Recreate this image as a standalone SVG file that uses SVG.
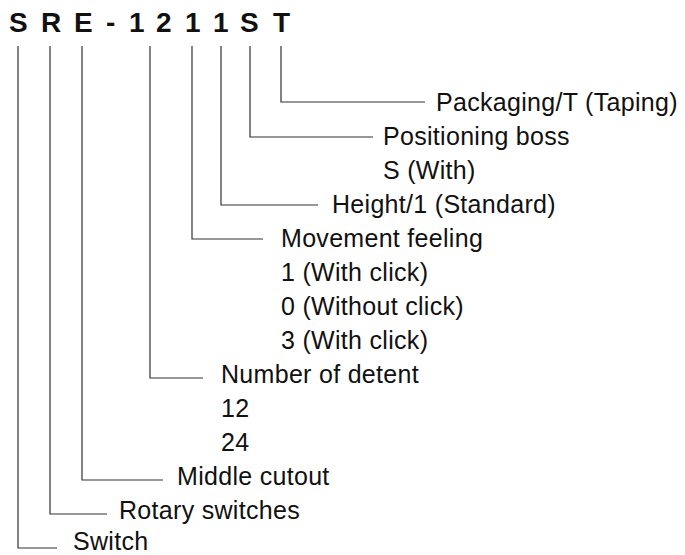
<svg xmlns="http://www.w3.org/2000/svg" width="685" height="555" viewBox="0 0 685 555">
<style>
.code{font-family:"Liberation Sans",Arial,sans-serif;font-size:28px;font-weight:bold;fill:#111}
.lbl{font-family:"Liberation Sans",Arial,sans-serif;font-size:25px;fill:#111;letter-spacing:0.3px}
.ln{fill:none;stroke:#333;stroke-width:1.2}
</style>
<rect width="685" height="555" fill="#fff"/>
<g id="code"><text class="code" x="9 41 74 106 129 156 185 213 240 273" y="32">SRE-1211ST</text></g>
<g id="connectors">
<path class="ln" d="M281 46V102H425"/>
<path class="ln" d="M250 46V137H373"/>
<path class="ln" d="M221 46V205H318"/>
<path class="ln" d="M192 46V239H263"/>
<path class="ln" d="M150 46V378H203"/>
<path class="ln" d="M82 46V480H163"/>
<path class="ln" d="M50 46V514H107"/>
<path class="ln" d="M18 46V548H57"/>
</g>
<g id="packaging"><text class="lbl" x="436" y="111">Packaging/T (Taping)</text></g>
<g id="positioning"><text class="lbl" x="383" y="145">Positioning boss</text><text class="lbl" x="383" y="179">S (With)</text></g>
<g id="height"><text class="lbl" x="332" y="213">Height/1 (Standard)</text></g>
<g id="movement"><text class="lbl" x="281" y="247">Movement feeling</text><text class="lbl" x="281" y="281">1 (With click)</text><text class="lbl" x="281" y="315">0 (Without click)</text><text class="lbl" x="281" y="349">3 (With click)</text></g>
<g id="detent"><text class="lbl" x="221" y="383">Number of detent</text><text class="lbl" x="221" y="417">12</text><text class="lbl" x="221" y="451">24</text></g>
<g id="middle"><text class="lbl" x="177" y="485">Middle cutout</text></g>
<g id="rotary"><text class="lbl" x="119" y="519">Rotary switches</text></g>
<g id="switch"><text class="lbl" x="73" y="550">Switch</text></g>
</svg>
